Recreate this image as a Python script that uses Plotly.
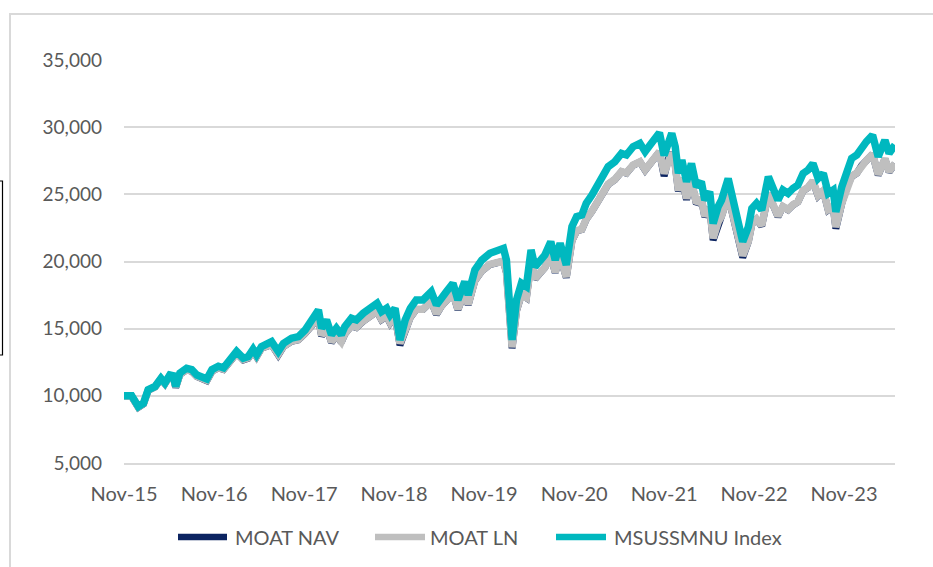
import plotly.graph_objects as go

dates = [
    "2015-11-30", "2015-12-31", "2016-01-27", "2016-02-17", "2016-03-07", "2016-04-04",
    "2016-04-28", "2016-05-14", "2016-06-03", "2016-06-16", "2016-06-27", "2016-07-14",
    "2016-08-10", "2016-08-31", "2016-09-21", "2016-10-31", "2016-11-21", "2016-12-17",
    "2017-01-07", "2017-02-03", "2017-03-01", "2017-03-28", "2017-04-17", "2017-05-07",
    "2017-05-21", "2017-06-10", "2017-07-07", "2017-07-21", "2017-08-17", "2017-09-07",
    "2017-10-10", "2017-11-07", "2017-12-04", "2018-01-07", "2018-01-27", "2018-02-09",
    "2018-03-01", "2018-03-21", "2018-04-10", "2018-04-30", "2018-05-14", "2018-06-10",
    "2018-06-30", "2018-07-28", "2018-08-30", "2018-09-22", "2018-10-10", "2018-10-31",
    "2018-11-14", "2018-12-04", "2018-12-24", "2019-01-14", "2019-02-04", "2019-02-28",
    "2019-03-27", "2019-04-30", "2019-05-21", "2019-06-10", "2019-06-30", "2019-07-27",
    "2019-08-16", "2019-09-13", "2019-09-27", "2019-10-24", "2019-11-21", "2019-12-24",
    "2020-01-21", "2020-02-17", "2020-02-29", "2020-03-14", "2020-03-23", "2020-04-10",
    "2020-04-30", "2020-05-20", "2020-06-08", "2020-06-24", "2020-07-14", "2020-08-03",
    "2020-08-27", "2020-09-14", "2020-10-04", "2020-10-29", "2020-11-21", "2020-12-10",
    "2020-12-31", "2021-01-18", "2021-02-10", "2021-03-01", "2021-03-27", "2021-04-17",
    "2021-05-14", "2021-06-10", "2021-06-30", "2021-07-27", "2021-08-24", "2021-09-14",
    "2021-10-04", "2021-10-24", "2021-11-11", "2021-11-30", "2021-12-17", "2021-12-31",
    "2022-01-14", "2022-01-27", "2022-02-10", "2022-03-01", "2022-03-21", "2022-04-10",
    "2022-04-30", "2022-05-14", "2022-06-03", "2022-06-17", "2022-07-07", "2022-07-21",
    "2022-08-17", "2022-09-07", "2022-09-27", "2022-10-15", "2022-11-07", "2022-11-21",
    "2022-12-10", "2022-12-31", "2023-01-27", "2023-02-17", "2023-03-07", "2023-03-27",
    "2023-04-17", "2023-05-07", "2023-05-27", "2023-06-17", "2023-07-07", "2023-07-27",
    "2023-08-17", "2023-09-07", "2023-09-27", "2023-10-17", "2023-10-28", "2023-11-21",
    "2023-12-10", "2023-12-31", "2024-01-21", "2024-02-10", "2024-02-29", "2024-03-25",
    "2024-04-17", "2024-05-14", "2024-05-31", "2024-06-24",
]

msussmnu_index = [
    10000, 10000, 9200, 9450, 10450, 10700, 11300, 10950, 11550, 11500, 10700, 11700,
    12050, 11950, 11550, 11250, 11950, 12200, 12080, 12680, 13300, 12800, 12920, 13470,
    13050, 13670, 13960, 14040, 13300, 13900, 14290, 14410, 14900, 15900, 16390, 15030,
    15650, 14540, 15030, 14540, 15150, 15780, 15650, 16150, 16520, 16890, 16270, 16520,
    16020, 16520, 14160, 15650, 16520, 17140, 17140, 17750, 16770, 17390, 17750, 18380,
    17140, 18500, 17510, 19370, 20110, 20610, 20860, 20980, 20110, 16150, 14160, 17140,
    18380, 18140, 20860, 19610, 20110, 20480, 21470, 20110, 21350, 19740, 22590, 23340,
    23460, 24330, 24950, 25570, 26310, 27060, 27430, 28050, 27930, 28550, 28800, 28180,
    28670, 29290, 29590, 27900, 29040, 29540, 28550, 26560, 27550, 25940, 27300, 25570,
    25940, 24570, 25200, 22830, 24080, 24570, 26180, 24450, 22830, 21470, 22590, 23950,
    24330, 23830, 26310, 25320, 24570, 25320, 25070, 25440, 25690, 26560, 26810, 27300,
    26180, 26560, 25070, 25320, 23700, 25570, 26810, 27680, 27930, 28550, 28920, 29410,
    27800, 29040, 28050, 28670,
]

moat_ln = [
    9970, 9970, 9170, 9420, 10420, 10670, 11270, 10920, 11520, 11470, 10670, 11610,
    11950, 11850, 11460, 11160, 11850, 12100, 11980, 12580, 13190, 12700, 12820, 13360,
    12950, 13560, 13750, 13830, 13100, 13690, 14080, 14190, 14680, 15340, 15820, 14500,
    15100, 14030, 14500, 14030, 14620, 15230, 15100, 15580, 15940, 16300, 15700, 15940,
    15460, 15940, 13900, 15020, 15860, 16450, 16450, 17040, 16100, 16690, 17040, 17640,
    16450, 17760, 16810, 18600, 19310, 19790, 19920, 20040, 19210, 15420, 13620, 16370,
    17550, 17320, 19920, 18730, 19210, 19560, 20500, 19210, 20390, 18850, 21570, 22290,
    22400, 23160, 23750, 24340, 25050, 25760, 26110, 26700, 26590, 27180, 27420, 26830,
    27290, 27880, 28170, 26560, 27650, 28120, 27180, 25280, 26230, 24690, 25990, 24340,
    24690, 23390, 23990, 21730, 22920, 23390, 24920, 23280, 21730, 20440, 21510, 22800,
    23160, 22690, 25050, 24100, 23390, 24100, 23870, 24220, 24460, 25280, 25520, 25990,
    24920, 25280, 23870, 24100, 22560, 24340, 25520, 26350, 26590, 27180, 27530, 28000,
    26470, 27650, 26700, 27290,
]

moat_nav = [
    9960, 9960, 9140, 9400, 10400, 10650, 11250, 10900, 11500, 11450, 10620, 11590,
    11930, 11830, 11440, 11120, 11830, 12080, 11960, 12560, 13170, 12670, 12800, 13340,
    12920, 13540, 13730, 13810, 13050, 13670, 14060, 14170, 14660, 15320, 15800, 14450,
    15080, 13980, 14480, 13990, 14600, 15210, 15080, 15560, 15920, 16280, 15670, 15920,
    15420, 15920, 13770, 15000, 15840, 16430, 16430, 17020, 16050, 16670, 17020, 17620,
    16400, 17740, 16780, 18580, 19290, 19770, 19900, 20020, 19180, 15380, 13540, 16340,
    17530, 17290, 19900, 18700, 19190, 19540, 20480, 19180, 20370, 18800, 21550, 22270,
    22380, 23140, 23730, 24320, 25030, 25740, 26090, 26680, 26570, 27160, 27400, 26800,
    27270, 27860, 28150, 26350, 27630, 28100, 27160, 25230, 26210, 24600, 25970, 24280,
    24670, 23320, 23970, 21600, 22900, 23370, 24900, 23250, 21680, 20300, 21490, 22780,
    23140, 22640, 25030, 24080, 23340, 24080, 23840, 24200, 24440, 25260, 25500, 25970,
    24880, 25260, 23830, 24080, 22450, 24320, 25500, 26330, 26570, 27160, 27510, 27980,
    26430, 27630, 26670, 27270,
]

tick_dates = ["2015-11-30", "2016-11-30", "2017-11-30", "2018-11-30", "2019-11-30",
              "2020-11-30", "2021-11-30", "2022-11-30", "2023-11-30"]
tick_labels = ["Nov-15", "Nov-16", "Nov-17", "Nov-18", "Nov-19",
               "Nov-20", "Nov-21", "Nov-22", "Nov-23"]
y_ticks = [5000, 10000, 15000, 20000, 25000, 30000, 35000]

series_names = ["MOAT NAV", "MOAT LN", "MSUSSMNU Index"]
series_colors = ["#0c2461", "#bfbfbf", "#00b8bf"]
series_widths = [7, 7.5, 7.5]

TXT = "#595959"
GRID = "#d9d9d9"
FONT = "Lato, Carlito, 'Open Sans', sans-serif"

fig = go.Figure()
for name, vals, col, w in zip(series_names, [moat_nav, moat_ln, msussmnu_index],
                              series_colors, series_widths):
    fig.add_trace(go.Scatter(x=dates, y=vals, name=name, mode="lines",
                             line=dict(color=col, width=w), showlegend=False))

W, H = 933, 567
L, R, T, B = 124, 38, 60, 104
pw, ph = W - L - R, H - T - B

def px(x):
    return (x - L) / pw

def py(y):
    return (H - B - y) / ph

shapes = [
    dict(type="rect", xref="paper", yref="paper",
         x0=px(10), x1=px(W + 20), y0=py(H + 20), y1=py(14),
         line=dict(color=GRID, width=2), layer="below"),
    dict(type="rect", xref="paper", yref="paper",
         x0=px(-6), x1=px(2.5), y0=py(355), y1=py(181),
         line=dict(color="#000000", width=1.2)),
]

# manual legend (symbol start/end pixel, text start pixel)
legend_sym = [(176, 229), (373, 427), (554, 608)]
legend_txt = [233, 428, 612]
legend_y = 537
annotations = []
for (s0, s1), tx, name, col in zip(legend_sym, legend_txt, series_names, series_colors):
    shapes.append(dict(type="line", xref="paper", yref="paper",
                       x0=px(s0 + 2), x1=px(s1 - 2), y0=py(legend_y), y1=py(legend_y),
                       line=dict(color=col, width=6.5)))
    annotations.append(dict(xref="paper", yref="paper", x=px(tx), y=py(legend_y),
                            xanchor="left", yanchor="middle", text=name, showarrow=False,
                            font=dict(family=FONT, size=20, color=TXT)))

fig.update_layout(
    width=W, height=H,
    margin=dict(l=L, r=R, t=T, b=B, autoexpand=False),
    paper_bgcolor="white", plot_bgcolor="white",
    font=dict(family=FONT, size=20, color=TXT),
    showlegend=False,
    xaxis=dict(type="date", range=[dates[0], dates[-1]], tickmode="array",
               tickvals=tick_dates, ticktext=tick_labels, showgrid=False,
               showline=True, linecolor=GRID, linewidth=1.5, ticks="", automargin=False,
               ticklabelstandoff=12, tickfont=dict(family=FONT, size=20, color=TXT)),
    yaxis=dict(range=[5000, 35000], tickmode="array", tickvals=y_ticks,
               ticktext=[f"{v:,}" for v in y_ticks], showgrid=True, gridcolor=GRID,
               gridwidth=1.5, zeroline=False, showline=False, ticks="", automargin=False,
               ticklabelstandoff=21, tickfont=dict(family=FONT, size=19, color=TXT)),
    shapes=shapes,
    annotations=annotations,
)

fig.write_html("out.html", config={"displayModeBar": False},
               post_script="document.body.style.margin='0px';document.body.style.overflow='hidden';")
